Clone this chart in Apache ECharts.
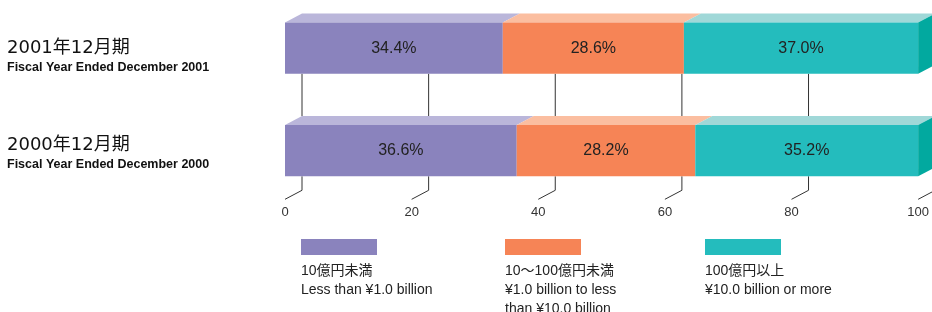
<!DOCTYPE html>
<html>
<head>
<meta charset="utf-8">
<script src="https://cdn.jsdelivr.net/npm/echarts@6/dist/echarts.min.js"></script>
<style>
html,body{margin:0;padding:0;background:#fff;}
#chart{width:932px;height:312px;}
</style>
</head>
<body>
<div id="chart"></div>
<script>
// data
var years = ['2001年12月期', '2000年12月期'];
var yearsEn = ['Fiscal Year Ended December 2001', 'Fiscal Year Ended December 2000'];
var segNames = [
  '10億円未満\nLess than ¥1.0 billion',
  '10～100億円未満\n¥1.0 billion to less\nthan ¥10.0 billion',
  '100億円以上\n¥10.0 billion or more'
];
var small = [34.4, 36.6];
var mid = [28.6, 28.2];
var large = [37.0, 35.2];
var ticks = [0, 20, 40, 60, 80, 100];

var segs = [small, mid, large];
var fronts = ['#8a83bd', '#f68456', '#24bcbd'];
var tops = ['#bab6da', '#fbbea0', '#a0d8d8'];
var sideColor = '#02a99f';
var DX = 17, DY = 9;
var font = '"Liberation Sans", "Noto Sans CJK JP", sans-serif';

var chart = echarts.init(document.getElementById('chart'));

function segItem(k) {
  var last = k === segs.length - 1;
  return function (params, api) {
    var cat = api.value(1), v0 = api.value(0), v1 = api.value(2), share = api.value(3);
    var p0 = api.coord([v0, cat]), p1 = api.coord([v1, cat]);
    var h = api.size([0, 1])[1] * 0.5;
    var yt = p0[1] - h / 2, yb = p0[1] + h / 2;
    var kids = [
      {type: 'polygon', shape: {points: [[p0[0], yt], [p0[0] + DX, yt - DY], [p1[0] + DX, yt - DY], [p1[0], yt]]}, style: {fill: tops[k]}},
      {type: 'rect', shape: {x: p0[0], y: yt, width: p1[0] - p0[0], height: h}, style: {fill: fronts[k]},
        textContent: {style: {text: share.toFixed(1) + '%', fill: '#222', fontSize: 16, fontFamily: font}},
        textConfig: {position: 'inside'}}
    ];
    if (last) {
      kids.push({type: 'polygon', shape: {points: [[p1[0], yt], [p1[0] + DX, yt - DY], [p1[0] + DX, yb - DY], [p1[0], yb]]}, style: {fill: sideColor}});
    }
    return {type: 'group', children: kids};
  };
}

// back grid lines: only the parts not hidden behind the bars
var series = [{
  type: 'custom',
  z: 1,
  silent: true,
  encode: {x: 0, y: 1},
  data: ticks.map(function (t) { return [t, 0]; }),
  renderItem: function (params, api) {
    var x = api.coord([api.value(0), 0])[0];
    var h = api.size([0, 1])[1] * 0.5;
    var yb1 = api.coord([0, 0])[1] + h / 2;
    var yt2 = api.coord([0, 1])[1] - h / 2 - DY;
    var yb2 = api.coord([0, 1])[1] + h / 2;
    var yFloor = yb2 + 14;
    var st = {stroke: '#333', lineWidth: 1};
    return {type: 'group', children: [
      {type: 'line', shape: {x1: x + DX, y1: yb1, x2: x + DX, y2: yt2}, style: st},
      {type: 'line', shape: {x1: x + DX, y1: yb2, x2: x + DX, y2: yFloor}, style: st},
      {type: 'line', shape: {x1: x + DX, y1: yFloor, x2: x, y2: yFloor + DY}, style: st}
    ]};
  }
}];

segs.forEach(function (arr, k) {
  series.push({
    type: 'custom',
    z: 2,
    encode: {x: [0, 2], y: 1},
    data: arr.map(function (v, i) {
      var start = 0;
      for (var j = 0; j < k; j++) start += segs[j][i];
      return [start, i, start + v, v];
    }),
    renderItem: segItem(k)
  });
});

var graphic = [];
var legX = [301, 505, 705];
segNames.forEach(function (n, k) {
  graphic.push({type: 'rect', left: legX[k], top: 239, shape: {width: 76, height: 16}, style: {fill: fronts[k]}});
  graphic.push({type: 'text', left: legX[k], top: 262, style: {text: n, fill: '#222', fontSize: 14, lineHeight: 19, fontFamily: font}});
});
var yearTop = [39, 136];
years.forEach(function (y, i) {
  graphic.push({type: 'text', left: 7, top: yearTop[i], style: {
    text: '{a|' + y + '}\n{b|' + yearsEn[i] + '}', fill: '#111',
    rich: {
      a: {fontSize: 18, lineHeight: 21, fill: '#111', fontFamily: '"DejaVu Sans", "Noto Sans CJK JP", sans-serif'},
      b: {fontSize: 12.5, lineHeight: 18, fontWeight: 'bold', fill: '#111', fontFamily: font}
    }
  }});
});

chart.setOption({
  animation: false,
  grid: {left: 285, right: 12, top: 0, height: 201},
  xAxis: {
    type: 'value', min: 0, max: 100, interval: 20,
    axisLine: {show: false}, axisTick: {show: false}, splitLine: {show: false},
    axisLabel: {margin: 5, fontSize: 13, color: '#333', fontFamily: font}
  },
  // category rows 0 (2001) and 1 (2000) on a hidden value axis
  yAxis: {
    type: 'value', inverse: true, min: -0.47, max: 1.491, show: false
  },
  graphic: graphic,
  series: series
});
window.onresize = function () { chart.resize(); };
</script>
</body>
</html>
